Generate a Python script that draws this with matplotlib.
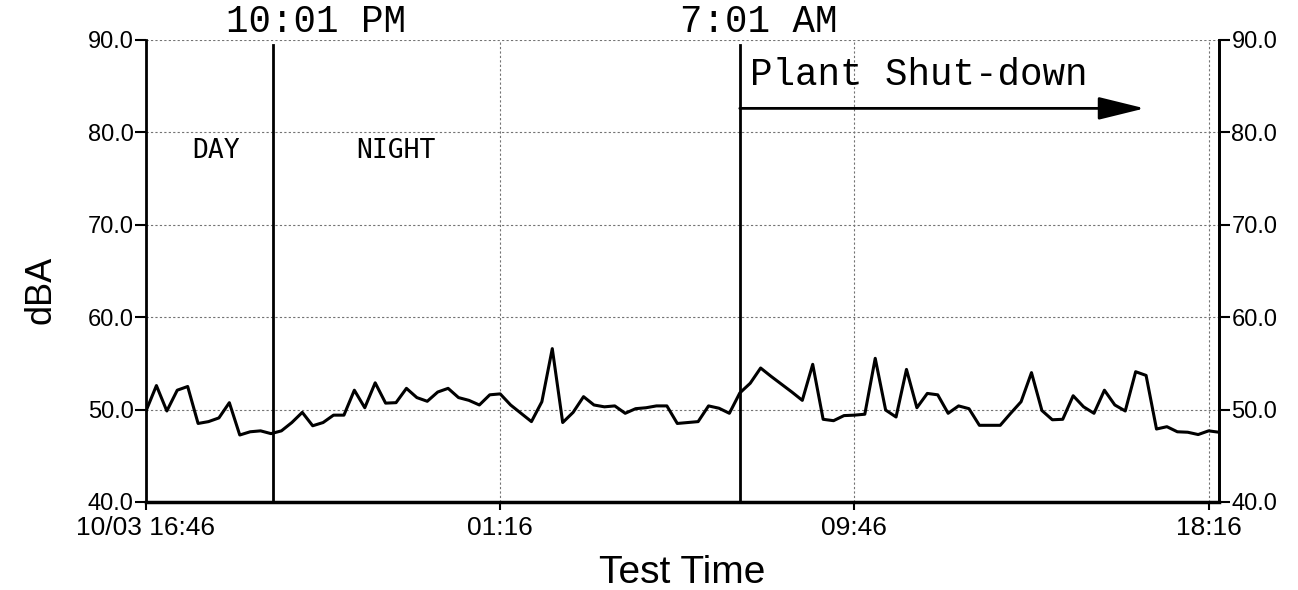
import matplotlib
matplotlib.use("Agg")
import matplotlib.pyplot as plt
import pandas as pd

# sound level, one reading every 15 minutes from 10/03 16:46
start = "2023-10-03 16:46"
interval = "15min"
dba = [
    49.85, 52.6, 49.85, 52.1, 52.5, 48.5, 48.7, 49.1, 50.75, 47.25,
    47.6, 47.7, 47.4, 47.7, 48.6, 49.7, 48.25, 48.6, 49.4, 49.4,
    52.1, 50.2, 52.9, 50.7, 50.75, 52.3, 51.3, 50.9, 51.9, 52.3,
    51.3, 51.0, 50.5, 51.6, 51.7, 50.5, 49.6, 48.7, 50.85, 56.6,
    48.6, 49.7, 51.4, 50.5, 50.3, 50.4, 49.6, 50.1, 50.2, 50.4,
    50.4, 48.5, 48.6, 48.7, 50.4, 50.15, 49.6, 51.8, 52.85, 54.5,
    53.6, 52.75, 51.9, 51.0, 54.9, 48.95, 48.8, 49.35, 49.4, 49.5,
    55.55, 49.95, 49.2, 54.35, 50.2, 51.75, 51.6, 49.6, 50.4, 50.1,
    48.3, 48.3, 48.3, 49.6, 50.85, 54.0, 49.9, 48.9, 48.95, 51.5,
    50.3, 49.6, 52.1, 50.5, 49.85, 54.1, 53.7, 47.9, 48.15, 47.6,
    47.55, 47.3, 47.7, 47.55,
]
x_end = "2023-10-04 18:31"

tick_times = ["2023-10-03 16:46", "2023-10-04 01:16", "2023-10-04 09:46", "2023-10-04 18:16"]
tick_labels = ["10/03 16:46", "01:16", "09:46", "18:16"]
y_ticks = [40, 50, 60, 70, 80, 90]

marker_times = ["2023-10-03 19:49", "2023-10-04 07:01"]
marker_labels = ["10:01 PM", "7:01 AM"]
marker_offsets = [-47, -60]  # pixels from line to left edge of label

arrow_end = "2023-10-04 16:44"

times = pd.date_range(start, periods=len(dba), freq=interval)
tick_times = pd.to_datetime(tick_times)
marker_times = pd.to_datetime(marker_times)

sans = ["Liberation Sans", "DejaVu Sans"]
mono = ["Liberation Mono", "DejaVu Sans Mono"]

fig = plt.figure(figsize=(12.98, 5.90), dpi=100)
ax = fig.add_axes([146 / 1298, 1 - 502 / 590, (1219 - 146) / 1298, (502 - 40) / 590])

ax.plot(times, dba, color="black", lw=2.2, zorder=3)

ax.set_xlim(pd.Timestamp(start), pd.Timestamp(x_end))
ax.set_ylim(40, 90)
ax.set_yticks(y_ticks)
ax.set_yticklabels([f"{v:.1f}" for v in y_ticks], family=sans, fontsize=17)
ax.set_xticks(tick_times)
ax.set_xticklabels(tick_labels, family=sans, fontsize=19)
ax.tick_params(axis="y", length=8, width=1.5, pad=1)
ax.tick_params(axis="x", length=6, width=1.5, pad=4)

ax.grid(True, linestyle=(0, (2, 2)), color="0.45", lw=0.8)
ax.spines["top"].set_visible(False)
ax.spines["left"].set_linewidth(2)
ax.spines["right"].set_linewidth(2)
ax.spines["bottom"].set_linewidth(2.5)

ax.set_xlabel("Test Time", family=sans, fontsize=28)
ax.xaxis.set_label_coords(0.5, -0.115)
ax.set_ylabel("dBA", family=sans, fontsize=26)
ax.yaxis.set_label_coords(-0.082, 0.46)

right = ax.twinx()
right.set_ylim(40, 90)
right.set_yticks(y_ticks)
right.set_yticklabels([f"{v:.1f}" for v in y_ticks], family=sans, fontsize=17)
right.tick_params(axis="y", length=8, width=1.5, pad=1)
for side in ("top", "left", "bottom"):
    right.spines[side].set_visible(False)
right.spines["right"].set_linewidth(2)

for t, label, off in zip(marker_times, marker_labels, marker_offsets):
    ax.axvline(t, ymax=0.99, color="black", lw=2, zorder=4)
    ax.annotate(label, xy=(t, 90), xytext=(off, 8), textcoords="offset pixels",
                ha="left", va="baseline", family=mono, fontsize=27, annotation_clip=False)

ax.text(pd.Timestamp(start) + pd.Timedelta(hours=1.68), 78, "DAY",
        family="DejaVu Sans Mono", fontsize=19, ha="center", va="center")
ax.text(pd.Timestamp(start) + pd.Timedelta(hours=5.99), 78, "NIGHT",
        family="DejaVu Sans Mono", fontsize=19, ha="center", va="center")

ax.annotate("Plant Shut-down", xy=(marker_times[1], 85.1), xytext=(10, 0),
            textcoords="offset pixels", ha="left", va="baseline", family=mono, fontsize=27)
ax.annotate("", xy=(pd.Timestamp(arrow_end), 82.6), xytext=(marker_times[1], 82.6),
            arrowprops=dict(arrowstyle="-|>,head_length=1.3,head_width=0.32",
                            mutation_scale=22, lw=2, color="black", shrinkA=0, shrinkB=0))

fig.savefig("out.png", dpi=100)
